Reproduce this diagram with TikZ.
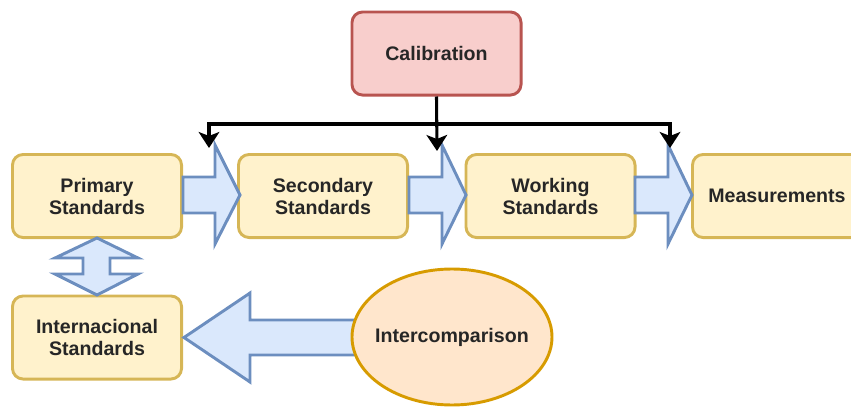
\documentclass[tikz,border=0pt]{standalone}
\usepackage{fontspec}
\setmainfont{Liberation Sans}
\usetikzlibrary{arrows.meta,shapes.geometric}
\definecolor{boxfill}{HTML}{FFF2CC}
\definecolor{boxline}{HTML}{D6B656}
\definecolor{calfill}{HTML}{F8CECC}
\definecolor{calline}{HTML}{B85450}
\definecolor{arrfill}{HTML}{DAE8FC}
\definecolor{arrline}{HTML}{6C8EBF}
\definecolor{ellfill}{HTML}{FFE6CC}
\definecolor{ellline}{HTML}{D79B00}
\begin{document}
\begin{tikzpicture}[x=0.75pt,y=-0.75pt,
  every node/.style={font=\fontsize{14.7}{16.5}\selectfont\bfseries, align=center, text=black!85},
  stdbox/.style={draw=boxline, fill=boxfill, line width=2.2pt, rounded corners=8pt,
    minimum width={172*0.75pt-2.2pt}, minimum height={86*0.75pt-2.2pt}, inner sep=0pt},
  calbox/.style={stdbox, draw=calline, fill=calfill},
  ellbox/.style={draw=ellline, fill=ellfill, line width=2.2pt, ellipse,
    minimum width={200*0.75pt}, minimum height={136*0.75pt}, inner sep=0pt},
  blockarrow/.style={draw=arrline, fill=arrfill, line width=2.2pt, line join=miter},
  tip/.style={Stealth[length=12pt,width=15.5pt,inset=3pt]},
  blk/.style={draw=black, line width=2.3pt, {Stealth[length=12pt,width=15.5pt,inset=3pt]}-{Stealth[length=12pt,width=15.5pt,inset=3pt]}},
  blkone/.style={draw=black, line width=2.3pt, -{Stealth[length=12pt,width=15.5pt,inset=3pt]}}]
\useasboundingbox (0,0) rectangle (851,407);
\begin{scope}
\clip (0,0) rectangle (851,407);

% boxes
\node[calbox] (cal) at (436.5,53.5) {Calibration};
\node[stdbox] (prim) at (97,196) {Primary\\Standards};
\node[stdbox] (sec) at (323,196) {Secondary\\Standards};
\node[stdbox] (work) at (550.5,196) {Working\\Standards};
\node[stdbox] (meas) at (777,196) {Measurements};
\node[stdbox] (intl) at (97,337.5) {Internacional\\Standards};

% block arrows along the chain
\path[blockarrow] (183,177) -- (215,177) -- (215,145) -- (240,195) -- (215,244) -- (215,213) -- (183,213) -- cycle;
\path[blockarrow] (409,177) -- (442,177) -- (442,145) -- (466,195) -- (442,244) -- (442,213) -- (409,213) -- cycle;
\path[blockarrow] (635,177) -- (668,177) -- (668,145) -- (692,195) -- (668,244) -- (668,213) -- (635,213) -- cycle;

% two-way block arrow between primary and international standards
\path[blockarrow] (97,238) -- (138,258) -- (110,258) -- (110,274) -- (138,274) -- (97,295)
  -- (55,274) -- (83,274) -- (83,258) -- (55,258) -- cycle;

% block arrow from the intercomparison
\path[blockarrow] (356,320) -- (250,320) -- (250,293) -- (184,337.5) -- (250,382) -- (250,355) -- (356,355) -- cycle;

\node[ellbox] (inter) at (452,337) {\makebox[0pt]{Intercomparison}};

% calibration feed lines
\coordinate (lt) at (209,148);
\coordinate (rt) at (670,148);
\coordinate (mt) at (437,151);
\draw[blkone] (cal.south) -- (mt);
\draw[blk] (lt) -- (209,124) -- (670,124) -- (rt);
\end{scope}
\end{tikzpicture}
\end{document}
